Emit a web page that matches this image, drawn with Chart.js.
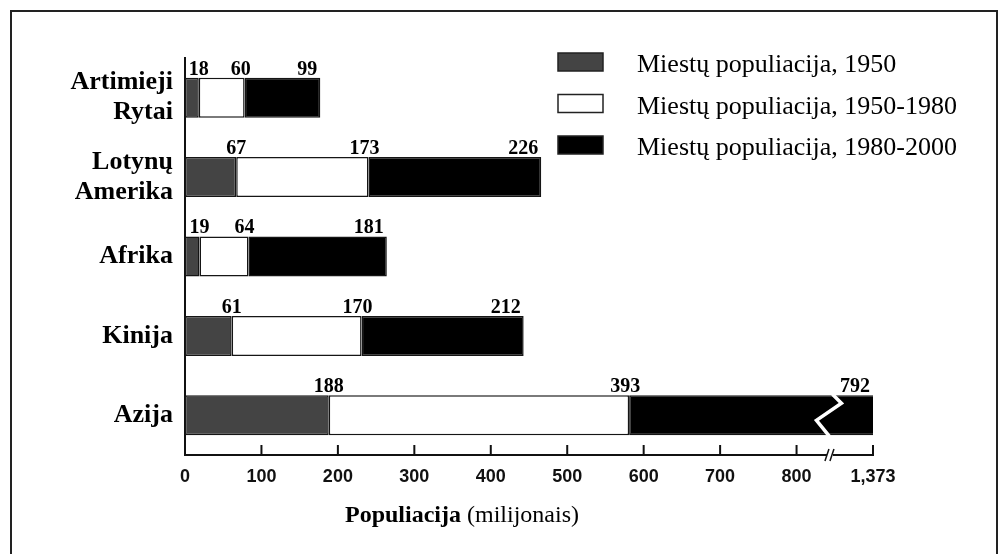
<!DOCTYPE html>
<html>
<head>
<meta charset="utf-8">
<script src="https://cdn.jsdelivr.net/npm/chart.js@4.4.1/dist/chart.umd.min.js"></script>
<style>
html, body { margin: 0; padding: 0; background: #fff; }
#wrap { width: 1008px; height: 554px; }
</style>
</head>
<body>
<div id="wrap"><canvas id="urbanChart" width="1008" height="554"></canvas></div>
<script>
/* Chart data */
const regions = [['Artimieji', 'Rytai'], ['Lotynų', 'Amerika'], 'Afrika', 'Kinija', 'Azija'];
const seriesNames = ['Miestų populiacija, 1950', 'Miestų populiacija, 1950-1980', 'Miestų populiacija, 1980-2000'];
const pop1950 = [18, 67, 19, 61, 188];
const pop1950to1980 = [60, 173, 64, 170, 393];
const pop1980to2000 = [99, 226, 181, 212, 792];
const tickValues = [0, 100, 200, 300, 400, 500, 600, 700, 800, 900];
const tickLabels = ['0', '100', '200', '300', '400', '500', '600', '700', '800', '1,373'];
const axisBreak = 845; // axis is cut here, last tick stands for the full total

const serif = '"Liberation Serif", "Times New Roman", serif';

const makeSet = function(label, data, fill) {
    return {
        label: label,
        data: data,
        backgroundColor: fill,
        borderColor: '#151515',
        borderWidth: 1.5,
        borderSkipped: false,
        clip: 0
    }
}

/* Frame, labels, legend, axis break, title */
const decor = {
    id: 'decor',
    beforeDraw(chart) {
        const c = chart.ctx;
        c.save();
        c.fillStyle = '#fff';
        c.fillRect(0, 0, chart.width, chart.height);
        c.strokeStyle = '#222';
        c.lineWidth = 2;
        c.beginPath();
        c.moveTo(11, 554); c.lineTo(11, 11); c.lineTo(997, 11); c.lineTo(997, 554);
        c.stroke();
        c.restore();
    },
    afterDatasetsDraw(chart) {
        const c = chart.ctx;
        const xs = chart.scales.x;
        const area = chart.chartArea;
        c.save();

        // zig-zag cut on bars running past the axis end
        const last = chart.getDatasetMeta(chart.data.datasets.length - 1);
        regions.forEach((_, i) => {
            const total = chart.data.datasets.reduce((s, d) => s + d.data[i], 0);
            if (total <= xs.max) return;
            const el = last.data[i];
            const top = el.y - el.height / 2, bot = el.y + el.height / 2;
            const bx = xs.getPixelForValue(axisBreak);
            c.strokeStyle = '#fff';
            c.lineWidth = 3.5;
            c.beginPath();
            c.moveTo(bx + 1.5, top - 1);
            c.lineTo(bx + 10.5, top + 8);
            c.lineTo(bx - 14.5, top + 25);
            c.lineTo(bx - 1.5, bot + 1);
            c.stroke();
        });

        // values above each segment end
        c.fillStyle = '#000';
        c.font = 'bold 20px ' + serif;
        c.textBaseline = 'alphabetic';
        chart.data.datasets.forEach((ds, di) => {
            const meta = chart.getDatasetMeta(di);
            meta.data.forEach((el, i) => {
                const end = Math.min(el.x, area.right);
                const top = el.y - el.height / 2;
                if (di === 2) {
                    c.textAlign = 'right';
                    c.fillText(ds.data[i], end - 3, top - 3);
                } else {
                    c.textAlign = 'center';
                    c.fillText(ds.data[i], end - (di === 1 ? 4 : 0), top - 3);
                }
            });
        });
        c.restore();
    },
    afterDraw(chart) {
        const c = chart.ctx;
        const xs = chart.scales.x;
        const yb = chart.chartArea.bottom;
        c.save();

        // tick marks pointing up from the axis
        c.strokeStyle = '#111';
        c.lineWidth = 2;
        tickValues.forEach(v => {
            const x = xs.getPixelForValue(v);
            c.beginPath();
            c.moveTo(x, yb - 10);
            c.lineTo(x, yb);
            c.stroke();
        });

        // "//" break on the axis
        const bx = xs.getPixelForValue(axisBreak);
        c.fillStyle = '#fff';
        c.fillRect(bx - 4, yb - 2, 6, 4);
        c.lineWidth = 1.5;
        c.beginPath();
        c.moveTo(bx - 6, yb + 6); c.lineTo(bx - 2, yb - 6);
        c.moveTo(bx - 1, yb + 6); c.lineTo(bx + 3, yb - 6);
        c.stroke();

        // legend
        chart.data.datasets.forEach((ds, i) => {
            const cy = 62 + i * 41.5;
            c.fillStyle = ds.backgroundColor;
            c.fillRect(558, cy - 9, 45, 18);
            c.strokeStyle = '#222';
            c.lineWidth = 1.5;
            c.strokeRect(558, cy - 9, 45, 18);
            c.fillStyle = '#000';
            c.font = '26px ' + serif;
            c.textAlign = 'left';
            c.textBaseline = 'alphabetic';
            c.fillText(ds.label, 637, cy + 10);
        });

        // axis title, bold word + regular unit
        c.fillStyle = '#000';
        c.textAlign = 'left';
        c.font = 'bold 24px ' + serif;
        const word = 'Populiacija';
        c.fillText(word, 345, 522);
        const w = c.measureText(word + ' ').width;
        c.font = '24px ' + serif;
        c.fillText('(milijonais)', 345 + w, 522);
        c.restore();
    }
};

new Chart(document.getElementById('urbanChart'), {
    type: 'bar',
    data: {
        labels: regions,
        datasets: [
            makeSet(seriesNames[0], pop1950, '#444444'),
            makeSet(seriesNames[1], pop1950to1980, '#ffffff'),
            makeSet(seriesNames[2], pop1980to2000, '#000000')
        ]
    },
    options: {
        indexAxis: 'y',
        responsive: false,
        animation: false,
        categoryPercentage: 1,
        barPercentage: 0.504,
        layout: { padding: { left: 12, right: 135, top: 58, bottom: 0 } },
        plugins: {
            legend: { display: false },
            tooltip: { enabled: false }
        },
        scales: {
            x: {
                type: 'linear',
                stacked: true,
                min: 0,
                max: 900,
                afterBuildTicks: function(scale) {
                    scale.ticks = tickValues.map(v => ({ value: v }));
                },
                afterFit: function(scale) { scale.height = 99; },
                ticks: {
                    callback: function(v) { return tickLabels[tickValues.indexOf(v)]; },
                    font: { family: '"Liberation Sans", Arial, sans-serif', weight: 'bold', size: 18 },
                    color: '#111',
                    padding: 11,
                    maxRotation: 0,
                    autoSkip: false
                },
                grid: { display: false, drawTicks: false },
                border: { display: true, color: '#111', width: 2 }
            },
            y: {
                stacked: true,
                afterFit: function(scale) { scale.width = 173; },
                ticks: {
                    font: { family: serif, weight: 'bold', size: 26, lineHeight: 1.15 },
                    color: '#000',
                    padding: 12
                },
                grid: { display: false, drawTicks: false },
                border: { display: true, color: '#111', width: 2 }
            }
        }
    },
    plugins: [decor]
});
</script>
</body>
</html>
